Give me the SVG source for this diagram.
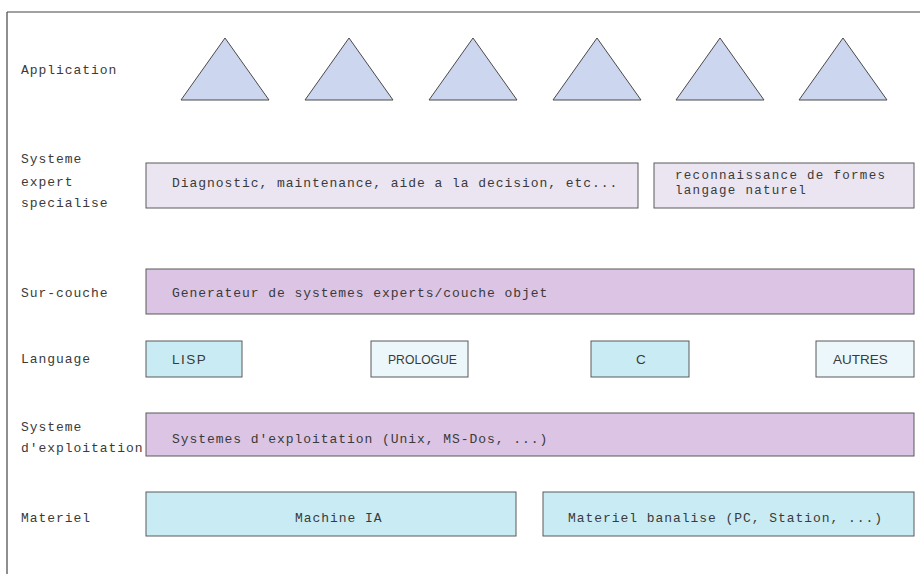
<svg xmlns="http://www.w3.org/2000/svg" width="920" height="574" viewBox="0 0 920 574">
<style>
.lbl{font-family:"Liberation Mono","DejaVu Sans Mono",monospace;font-size:13px;letter-spacing:0.95px;fill:#3a3a3a}
.sm{font-size:12.5px;letter-spacing:1.3px}
.sans{font-family:"Liberation Sans",Arial,sans-serif;font-size:13.5px;fill:#3a3a3a}
.box{stroke:#5a5a5a;stroke-width:1}
.tri{fill:#ccd6ef;stroke:#4a4a4a;stroke-width:1}
.lav{fill:#ebe5f2}
.pur{fill:#dcc4e4}
.cyan{fill:#c9ecf4}
.pale{fill:#ebf7fa}
</style>
<rect width="920" height="574" fill="#ffffff"/>
<g id="frame" fill="none" stroke="#444" stroke-width="1.2">
<line x1="7" y1="12" x2="920" y2="12"/>
<line x1="7" y1="12" x2="7" y2="574"/>
</g>
<g id="labels">
<text class="lbl" x="21" y="74">Application</text>
<text class="lbl" x="21" y="163">Systeme</text>
<text class="lbl" x="21" y="186">expert</text>
<text class="lbl" x="21" y="207">specialise</text>
<text class="lbl" x="21" y="297">Sur-couche</text>
<text class="lbl" x="21" y="363">Language</text>
<text class="lbl" x="21" y="431">Systeme</text>
<text class="lbl" x="21" y="452">d'exploitation</text>
<text class="lbl" x="21" y="522">Materiel</text>
</g>
<g id="app1"><polygon class="tri" points="225,38 269,100 181,100"/></g>
<g id="app2"><polygon class="tri" points="349,38 393,100 305,100"/></g>
<g id="app3"><polygon class="tri" points="473,38 517,100 429,100"/></g>
<g id="app4"><polygon class="tri" points="597,38 641,100 553,100"/></g>
<g id="app5"><polygon class="tri" points="720,38 764,100 676,100"/></g>
<g id="app6"><polygon class="tri" points="843,38 887,100 799,100"/></g>
<g id="diagnostic"><rect class="box lav" x="146" y="163" width="492" height="45"/>
<text class="lbl" x="172" y="187">Diagnostic, maintenance, aide a la decision, etc...</text></g>
<g id="reconnaissance"><rect class="box lav" x="654" y="163" width="260" height="45"/>
<text class="lbl sm" x="675" y="179">reconnaissance de formes</text>
<text class="lbl sm" x="675" y="194">langage naturel</text></g>
<g id="surcouche"><rect class="box pur" x="146" y="269" width="768" height="45"/>
<text class="lbl" x="172" y="297">Generateur de systemes experts/couche objet</text></g>
<g id="lisp"><rect class="box cyan" x="146" y="341" width="96" height="36"/>
<text class="sans" x="172" y="364" letter-spacing="1.5">LISP</text></g>
<g id="prologue"><rect class="box pale" x="371" y="341" width="97" height="36"/>
<text class="sans" x="388" y="364" textLength="69" lengthAdjust="spacingAndGlyphs">PROLOGUE</text></g>
<g id="c"><rect class="box cyan" x="591" y="341" width="98" height="36"/>
<text class="sans" x="636" y="364">C</text></g>
<g id="autres"><rect class="box pale" x="816" y="341" width="98" height="36"/>
<text class="sans" x="833" y="364">AUTRES</text></g>
<g id="os"><rect class="box pur" x="146" y="413" width="768" height="43"/>
<text class="lbl" x="172" y="443">Systemes d'exploitation (Unix, MS-Dos, ...)</text></g>
<g id="machine"><rect class="box cyan" x="146" y="492" width="370" height="44"/>
<text class="lbl" x="295" y="522">Machine IA</text></g>
<g id="banalise"><rect class="box cyan" x="543" y="492" width="371" height="44"/>
<text class="lbl" x="568" y="522">Materiel banalise (PC, Station, ...)</text></g>
<g id="connectors"></g>
</svg>
